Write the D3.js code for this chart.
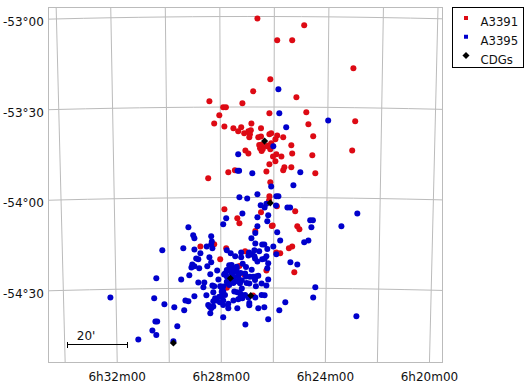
<!DOCTYPE html>
<html>
<head>
<meta charset="utf-8">
<script src="https://cdn.jsdelivr.net/npm/d3@7"></script>
<style>
body { margin: 0; background: #fff; }
text { font-family: "DejaVu Sans", sans-serif; font-size: 12px; fill: #111; }
.grid { fill: none; stroke: #bbb; stroke-width: 1; }
</style>
</head>
<body>
<div id="chart"></div>
<script>
var width = 526,
    height = 386;

// galaxy positions, arcmin from the field centre: [west, north]
var a3391 = [[1.8,59.7],[0.4,35.4],[-14.2,32.1],[-3.2,31.4],[-9.6,30.1],[-8.7,30.1],[-10.9,27.4],[-12.6,24.7],[-9.2,23.7],[-0.2,24.7],
[-6.2,23.1],[-3.6,23.4],[-4.6,22.1],[-2.6,21.4],[-1.2,22.1],[-0.4,22.4],[-0.7,21.1],[-0.9,20.1],[3,23.1],[2.1,20.1],[3,20.3],
[-2.2,15.7],[-1.2,14.7],[2.9,17.4],[2.7,16.4],[3.2,15.5],[-7.9,8.4],[-5.7,9.1],[-14.6,6.4],[17.4,57.4],[8.4,52.4],[13.4,52.4],
[33.8,43.1],[6.1,39.4],[14.8,33.4],[5.8,28.1],[18.1,28.4],[34.4,25.4],[18.8,24.4],[20.4,20.4],[13.1,17.4],[33.4,15.7],[13.4,14.7],
[20.1,14.1],[10.4,20.1],[8.4,20.7],[5.8,21.1],[6.4,21.4],[7.8,19.4],[6.1,16.1],[5,17.1],[6.4,18.1],[8.1,14.4],[9.8,13.7],[7,13.7],
[7.8,12.1],[5.8,11.1],[4.8,8.7],[10.8,10.1],[10.4,9.1],[13.1,10.1],[21.1,8.1],[6.1,5.1],[3.6,16.2],[3.3,17.7],[5.4,17.3],[2.4,17.5],
[-9.2,-3.9],[-4.9,-6.9],[-4.2,-8.6],[3,-4.9],[-17.2,-16.3],[-12.6,-15.6],[-8.6,-16.9],[-2.3,-17.9],[-10.6,-20.6],[-4.2,-22.8],
[-2.6,-25.7],[1.1,-11.2],[-8.4,-30.1],[0.4,-32.7],[5.8,0.4],[5.7,-0.9],[8.3,-2.9],[14.4,-4.6],[6.6,-9.5],[6.9,-9.3],[15.1,-9.6],
[15.8,-10.6],[12.3,-16.9],[13.4,-16.3],[8.1,-18.3],[9.4,-18.6],[14.1,-24.9],[4.8,-24.3]];

var a3395 = [[-4.6,14.4],[-4.3,8.9],[-4.8,8.9],[0.1,8.1],[8.8,36.1],[9.1,28.1],[25.4,25.7],[11.4,23.4],[7.1,17.1],[16.1,8.4],[13.8,4.1],[6.4,3.7],
[8.8,0.4],[8.1,0.4],[35.1,-5.3],[29.8,-9.6],[19.4,-7.6],[20.3,-7.6],[19.8,-9.9],[11.8,-3.3],[12.7,-3.3],[8,-2.7],[4.2,-3.3],[4.8,-2.1],
[5.4,-5.9],[5.1,-7.9],[8.4,-11.6],[9.4,-14.3],[17.4,-14.9],[18.8,-14.3],[7.1,-16.3],[4.1,-15.7],[5.1,-17.2],[8.1,-18.9],[4.8,-19.6],
[4.2,-20.4],[12.8,-21.6],[15.1,-22.3],[5.4,-21.9],[5.1,-23.6],[5.4,-27.3],[4.8,-29.3],[21.1,-29.9],[20.4,-33.3],[11.1,-34.9],[9.1,-37.6],
[4.2,-32.6],[4.1,-36.6],[5.4,-40.6],[34.8,-39.6],[-4.2,0.1],[-1.6,-0.3],[1.8,1.1],[2.9,-2.6],[-3.2,-5.3],[-8.6,-6.9],[-9.6,-8.9],[1.8,-6.6],
[1.8,-9.6],[1.1,-11.8],[-21.2,-9.9],[-19.6,-12.6],[-19.2,-13.6],[-13.6,-12.9],[-0.2,-13.6],[1.1,-15.3],[3.4,-15.7],[-29.9,-17.6],[-22.9,-16.9],
[-19.2,-17.3],[-15.1,-16.3],[-13.6,-15.7],[-13.2,-16.9],[-17.2,-18.6],[-8.4,-17.6],[-7.1,-18.6],[-5.6,-19.6],[-3.6,-18.3],[-3.6,-19.9],
[-1,-18.3],[0.1,-18.9],[-1.2,-19.3],[0.8,-17.6],[2.4,-17.9],[0.8,-19.6],[1.8,-21.3],[-18.6,-20.3],[-14.2,-19.9],[-13.6,-21.6],[-19.9,-22.3],
[-19.2,-22.9],[-20.2,-23.3],[-17.6,-23.6],[-14.9,-22.9],[-11.6,-24.3],[-13.9,-25.6],[-20.9,-25.9],[-23.6,-27.3],[-31.9,-26.9],[-17.9,-28.3],
[-15.9,-28.3],[-16.2,-29.9],[-13.2,-29.3],[-12.6,-29.6],[-11.2,-27.3],[-10.6,-29.6],[-7.6,-22.6],[-7.3,-23.5],[-8.4,-24.6],[-9.3,-25.7],
[-8.4,-26.3],[-6.8,-25.2],[-6.2,-24.1],[-7.3,-27.9],[-8.2,-28.5],[-6.2,-28.5],[-4.9,-27.9],[-4.6,-26.3],[-3.8,-25.2],[-3.1,-22.1],[-2,-23.2],
[-0.1,-24.1],[-2,-26.3],[-3.4,-27.6],[-1.8,-28.5],[-0.9,-28.7],[1.3,-26.3],[2.1,-26.1],[1.3,-29.6],[3.2,-28.7],[-5.1,-23.8],[-9,-25.3],
[-5.7,-24.7],[-6.2,-26.4],[-8.4,-28.1],[-4,-28.6],[0.4,-26.4],[-15.2,-32.6],[-12.9,-31.6],[-10.2,-29.9],[-9.6,-31.3],[-10.1,-32.9],[-9.6,-34.3],
[-10.7,-34.9],[-11.8,-34.3],[-12.9,-34.6],[-14.2,-36.3],[-12.9,-36.3],[-13.6,-36.9],[-13.9,-38.6],[-9.6,-39.9],[-7.9,-36.9],[-7.9,-35.4],
[-6.2,-34.3],[-4.9,-36.9],[-5.9,-31.3],[-4.9,-31.6],[-3.6,-32.3],[-4.6,-33.9],[-3.2,-33.6],[-1.2,-33.3],[-0.9,-35.9],[-0.9,-35.2],[1.1,-33.3],
[2.1,-36.9],[-2.2,-42.3],[-19.2,-32.9],[-22.2,-34.3],[-21.2,-34.6],[-22.6,-37.6],[-25.9,-36.6],[-29.2,-35.6],[-32.6,-33.6],[-47.2,-33.3],
[-32.2,-41.3],[-31.6,-41.3],[-33.2,-44.3],[-31.9,-45.8],[-37.9,-47.3],[-24.9,-42.9],[-26.2,-47.9],[-13.4,-14.7],[-17.9,-20.6],[-14.6,-35.8],
[3.4,-20.6],[1,-20.3],[-9,-32.5],[-4,-33.6],[-8.4,-24.2],[-6.8,-22.5],[-5.1,-23.1],[-4.6,-25.3],[-6.2,-27.5],[-7.6,-29.2],[-9.6,-29.7],
[-10.1,-31.4],[-10.9,-33.1],[-9.6,-35.8],[-12.3,-33.6],[-3.4,-30.3],[-4,-31.9],[-2.3,-32.5],[1,-27.5],[-0.7,-26.4],[-2.3,-25.3],[3.2,-32.5]];

var cdgs = [[4.2,18.8],[6.1,-1.8],[-7.2,-26.9],[-0.4,-32.7],[-26.2,-48.5]];

// grid, RA in minutes past 6h and dec in degrees
var raGrid = [34, 32, 30, 28, 26, 24, 22, 20];
var raLabels = [32, 28, 24, 20];
var decGrid = [-53, -53.5, -54, -54.5];
var legendNames = ["A3391", "A3395", "CDGs"];
var legendColors = ["#dd0a14", "#0000cc", "#000"];
var scaleBarArcmin = 20;

var frame = {left: 48.5, right: 442.5, top: 7.5, bottom: 362.5};
var centerX = 252,
    centerY = 197.5;

function raDeg(m) { return (6 + m / 60) * 15; }

var projection = d3.geoGnomonic()
    .reflectX(true)
    .rotate([-raDeg(26.82), 54])
    .scale(10370)
    .translate([centerX, centerY])
    .clipExtent([[frame.left, frame.top], [frame.right, frame.bottom]])
    .precision(0.3);

var path = d3.geoPath(projection);

var x = d3.scaleLinear().domain([-68, 63.5]).range([centerX - 204, centerX + 190.5]);
var y = d3.scaleLinear().domain([63.5, -55]).range([centerY - 190.5, centerY + 165]);

var svg = d3.select("#chart")
    .append("svg")
    .attr("width", width)
    .attr("height", height)
    .style("display", "block");

// meridians are straight in this projection, parallels get sampled
raGrid.forEach(function (m) {
    svg.append("path")
        .attr("class", "grid")
        .attr("d", path({type: "LineString", coordinates: [[raDeg(m), -52], [raDeg(m), -56]]}));
});

decGrid.forEach(function (d) {
    var coords = d3.range(raDeg(14), raDeg(40), 0.25).map(function (lon) { return [lon, d]; });
    svg.append("path")
        .attr("class", "grid")
        .attr("d", path({type: "LineString", coordinates: coords}));
});

svg.append("rect")
    .attr("x", frame.left)
    .attr("y", frame.top)
    .attr("width", frame.right - frame.left)
    .attr("height", frame.bottom - frame.top)
    .attr("fill", "none")
    .attr("stroke", "#bbb");

function addPoints(data, color) {
    svg.append("g")
        .selectAll("circle")
        .data(data)
        .enter()
        .append("circle")
        .attr("cx", function (d) { return x(d[0]); })
        .attr("cy", function (d) { return y(d[1]); })
        .attr("r", 3)
        .attr("fill", color);
}

addPoints(a3391, legendColors[0]);
addPoints(a3395, legendColors[1]);

var diamond = d3.symbol().type(d3.symbolSquare).size(25);

svg.append("g")
    .selectAll("path")
    .data(cdgs)
    .enter()
    .append("path")
    .attr("d", diamond)
    .attr("fill", "#000")
    .attr("transform", function (d) {
        return "translate(" + x(d[0]) + "," + y(d[1]) + ") rotate(45)";
    });

// tick labels
decGrid.forEach(function (d) {
    var mins = Math.round((-d - Math.floor(-d)) * 60);
    svg.append("text")
        .attr("x", 3)
        .attr("y", projection([raDeg(34.2), d])[1] + 7)
        .text("-" + Math.floor(-d) + "\u00b0" + d3.format("02")(mins));
});

raLabels.forEach(function (m) {
    svg.append("text")
        .attr("x", projection([raDeg(m), -54.9])[0])
        .attr("y", 381)
        .style("text-anchor", "middle")
        .text("6h" + m + "m00");
});

// scale bar
var barStart = x(-61.4),
    barEnd = x(-61.4 + scaleBarArcmin),
    barY = y(-49);

var bar = svg.append("g").attr("stroke", "#000").attr("shape-rendering", "crispEdges");
bar.append("line").attr("x1", barStart).attr("x2", barEnd).attr("y1", barY).attr("y2", barY);
bar.append("line").attr("x1", barStart).attr("x2", barStart).attr("y1", barY - 3).attr("y2", barY + 3);
bar.append("line").attr("x1", barEnd).attr("x2", barEnd).attr("y1", barY - 3).attr("y2", barY + 3);

svg.append("text")
    .attr("x", barStart + 9)
    .attr("y", barY - 4.5)
    .text(scaleBarArcmin + "'");

// legend
svg.append("rect")
    .attr("x", 452.5)
    .attr("y", 7.5)
    .attr("width", 71)
    .attr("height", 60)
    .attr("fill", "#fff")
    .attr("stroke", "#000");

var legendY = d3.scalePoint().domain(legendNames).range([18, 55.5]);

legendNames.forEach(function (name, i) {
    if (i < 2) {
        svg.append("path")
            .attr("d", d3.symbol().type(d3.symbolSquare).size(16))
            .attr("fill", legendColors[i])
            .attr("transform", "translate(466," + legendY(name) + ")");
    } else {
        svg.append("path")
            .attr("d", diamond)
            .attr("fill", legendColors[i])
            .attr("transform", "translate(466," + legendY(name) + ") rotate(45)");
    }
    svg.append("text")
        .attr("x", 480.5)
        .attr("y", legendY(name) + 8)
        .style("font-size", "11.7px")
        .text(name);
});
</script>
</body>
</html>
